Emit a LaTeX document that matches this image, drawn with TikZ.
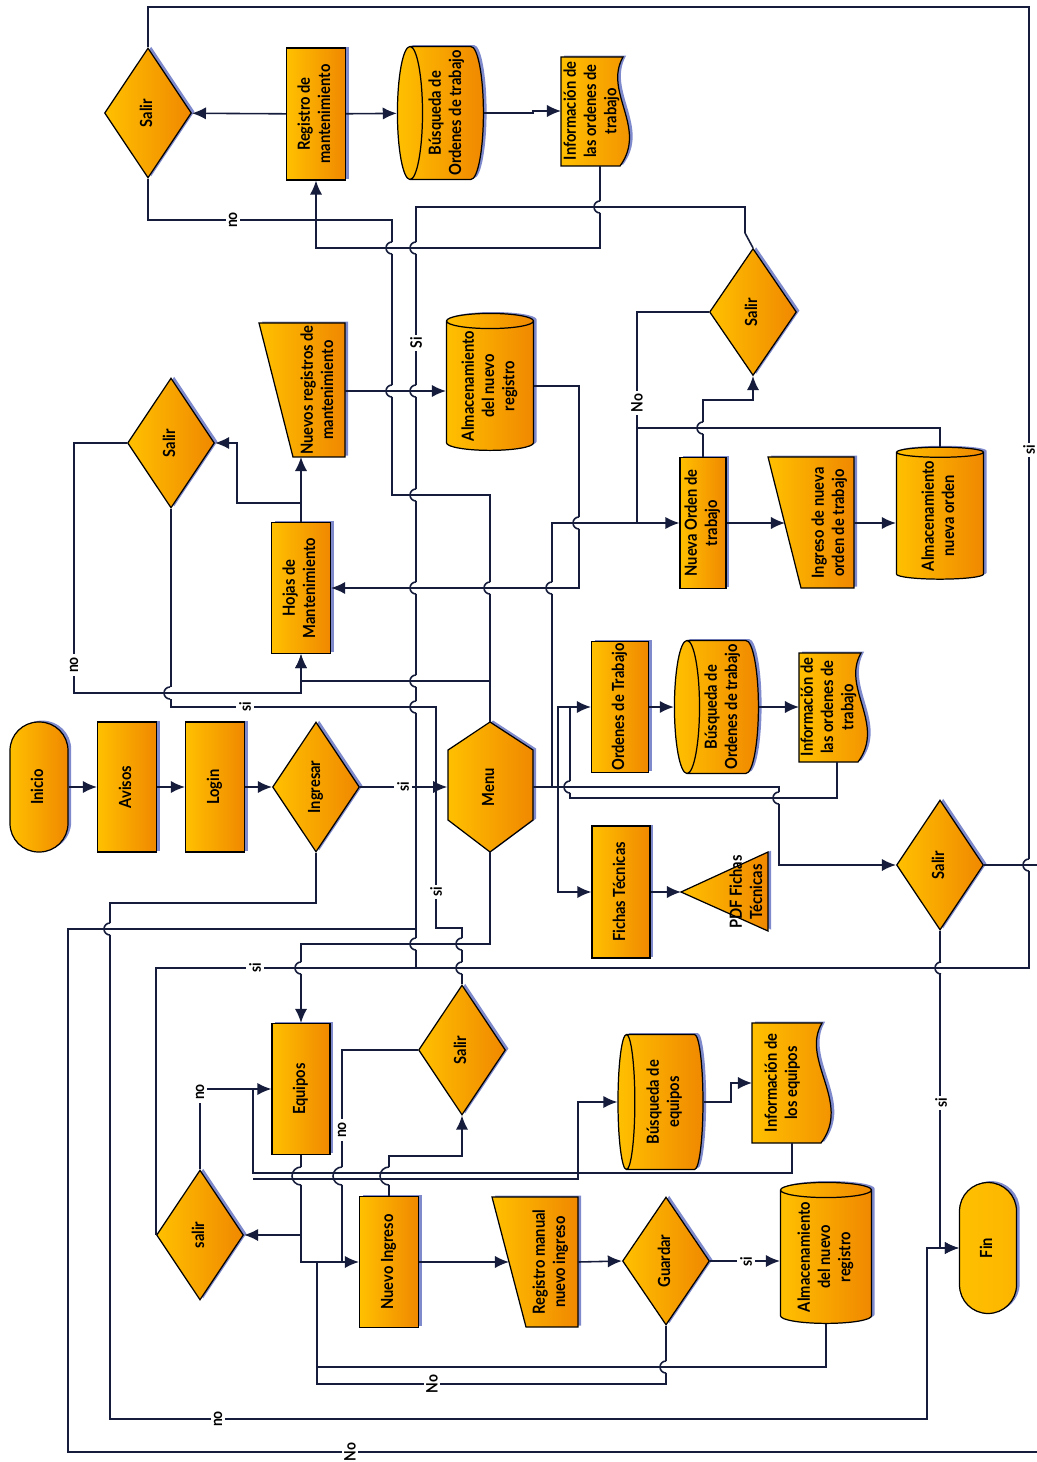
\documentclass[tikz,border=0pt]{standalone}
\usepackage{fontspec}
\setmainfont{Lato}[FakeStretch=0.88]
\usepackage{tikz}
\usetikzlibrary{arrows.meta,positioning,calc,shapes.geometric,shadows}
\definecolor{flowyel}{RGB}{255,192,0}
\definecolor{floworg}{RGB}{240,136,0}
\definecolor{linenavy}{RGB}{22,28,60}
\definecolor{flowshade}{RGB}{40,60,170}
\newcommand{\vtxt}[1]{\rotatebox{90}{\begin{tabular}{@{}c@{}}#1\end{tabular}}}
\tikzset{
  flowfill/.style={draw=black, line width=0.7pt, left color=flowyel, right color=floworg,
    drop shadow={fill=flowshade, opacity=0.6, shadow xshift=1.8pt, shadow yshift=0.8pt}},
  flowtext/.style={font=\bfseries\fontsize{9.5}{11.5}\selectfont, inner sep=0pt},
  procbox/.style={flowfill, flowtext, rectangle, minimum width=1.18cm, minimum height=2.62cm},
  decbox/.style={flowfill, flowtext, diamond, minimum width=1.74cm, minimum height=2.6cm},
  termbox/.style={flowfill, flowtext, rectangle, rounded corners=0.57cm, minimum width=1.16cm, minimum height=2.6cm},
  storebox/.style={flowfill, flowtext, cylinder, shape border rotate=90, aspect=0.25, minimum width=1.74cm, minimum height=2.74cm},
  drumbox/.style={flowfill, flowtext, cylinder, shape border rotate=180, aspect=0.2, minimum width=2.66cm, minimum height=1.72cm},
  textbox/.style={flowtext, rectangle},
  connline/.style={draw=linenavy, line width=0.9pt},
  connarrow/.style={connline, -{Latex[length=8pt,width=7pt]}},
  flowlabel/.style={font=\bfseries\fontsize{9}{10}\selectfont, fill=white, inner sep=1.5pt, rotate=90}
}

\begin{document}
\begin{tikzpicture}[x=0.02cm, y=-0.02cm]
  \useasboundingbox (0,0) rectangle (1036,1462);

  % shapes drawn directly
  \path[flowfill] (448,750) -- (490,722) -- (533,750) -- (533,820) -- (490,852) -- (448,820) -- cycle;
  \path[flowfill] (259,323) -- (345,323) -- (345,457) -- (293,457) -- cycle;
  \path[flowfill] (768,457) -- (854,457) -- (854,588) -- (801,588) -- cycle;
  \path[flowfill] (492,1197) -- (578,1197) -- (578,1327) -- (526,1327) -- cycle;
  \path[flowfill] (561,57) -- (623,57) .. controls (603,92) and (648,128) .. (620,166) -- (561,166) -- cycle;
  \path[flowfill] (799,653) -- (861,653) .. controls (841,688) and (886,724) .. (858,762) -- (799,762) -- cycle;
  \path[flowfill] (752,1023) -- (822,1023) .. controls (800,1060) and (852,1102) .. (821,1143) -- (752,1143) -- cycle;
  \path[flowfill] (681,892) -- (768,852) -- (768,931) -- cycle;

  \coordinate (nreg-s) at (301,457);
  \coordinate (nreg-e) at (345,391);
  \coordinate (ingo-w) at (785,523);
  \coordinate (ingo-e) at (854,523);
  \coordinate (rman-w) at (509,1262);
  \coordinate (rman-e) at (578,1262);
  \coordinate (inf1-w) at (561,111);
  \coordinate (inf1-s) at (600,166);
  \coordinate (inf2-w) at (799,707);
  \coordinate (inf2-s) at (837,762);
  \coordinate (inf3-w) at (752,1083);
  \coordinate (inf3-s) at (792,1143);
  \coordinate (pdf) at (681,892);

  % top part
  \node[decbox] (sal1) at (148,113) {\vtxt{Salir}};
  \node[procbox, minimum height=2.64cm] (regm) at (316,114) {\vtxt{Registro de\\mantenimiento}};
  \node[drumbox] (bus1) at (447,113) {\vtxt{Búsqueda de\\Ordenes de trabajo}};
  \node[textbox] (inf1) at (592,111) {\vtxt{Información de\\las ordenes de\\trabajo}};
  \node[decbox] (sal2) at (171,443) {\vtxt{Salir}};
  \node[textbox] (nreg) at (319,390) {\vtxt{Nuevos registros de\\mantenimiento}};
  \node[storebox] (alm1) at (490,386) {\vtxt{Almacenamiento\\del nuevo\\registro}};
  \node[procbox] (hoja) at (301,588) {\vtxt{Hojas de\\Mantenimiento}};
  \node[decbox, minimum height=2.54cm] (sal4) at (753,312) {\vtxt{Salir}};
  \node[procbox, minimum width=0.92cm] (nord) at (703,523) {\vtxt{Nueva Orden de\\trabajo}};
  \node[textbox] (ingo) at (830,523) {\vtxt{Ingreso de nueva\\orden de trabajo}};
  \node[storebox, minimum height=2.64cm] (alm2) at (940,516) {\vtxt{Almacenamiento\\nueva orden}};

  % main row
  \node[termbox] (ini) at (39,787) {\vtxt{Inicio}};
  \node[procbox, minimum height=2.6cm] (avi) at (127,787) {\vtxt{Avisos}};
  \node[procbox, minimum height=2.6cm] (log) at (215,787) {\vtxt{Login}};
  \node[decbox] (ing) at (316,787) {\vtxt{Ingresar}};
  \node[textbox, minimum width=1.7cm, minimum height=2.6cm] (menu) at (490,787) {\vtxt{Menu}};
  \node[procbox, minimum width=1.14cm] (ord) at (620,707) {\vtxt{Ordenes de Trabajo}};
  \node[drumbox, minimum height=1.68cm] (bus2) at (723,707) {\vtxt{Búsqueda de\\Ordenes de trabajo}};
  \node[textbox] (inf2) at (829,707) {\vtxt{Información de\\las ordenes de\\trabajo}};
  \node[procbox, minimum width=1.16cm, minimum height=2.64cm] (fic) at (621,892) {\vtxt{Fichas Técnicas}};
  \node[textbox] (pdft) at (748,892) {\vtxt{PDF Fichas\\Técnicas}};
  \node[decbox] (sal3) at (940,865) {\vtxt{Salir}};

  % bottom part
  \node[procbox, minimum width=1.16cm] (equ) at (301,1089) {\vtxt{Equipos}};
  \node[decbox] (sal5) at (462,1050) {\vtxt{Salir}};
  \node[drumbox, minimum width=2.7cm, minimum height=1.7cm] (bus3) at (665,1102) {\vtxt{Búsqueda de\\equipos}};
  \node[textbox] (inf3) at (783,1083) {\vtxt{Información de\\los equipos}};
  \node[decbox] (sal6) at (200,1235) {\vtxt{salir}};
  \node[procbox] (ning) at (389,1262) {\vtxt{Nuevo Ingreso}};
  \node[textbox] (rman) at (551,1262) {\vtxt{Registro manual\\nuevo ingreso}};
  \node[decbox, minimum height=2.56cm] (gua) at (666,1261) {\vtxt{Guardar}};
  \node[storebox, minimum width=1.82cm, minimum height=2.82cm] (alm3) at (826,1257) {\vtxt{Almacenamiento\\del nuevo\\registro}};
  \node[termbox, minimum width=1.14cm, minimum height=2.62cm, right color=flowyel!80!floworg] (fin) at (988,1248) {\vtxt{Fin}};

  % connectors
  \draw[connarrow] (ini) -- (avi);
  \draw[connarrow] (avi) -- (log);
  \draw[connarrow] (log) -- (ing);
  \draw[connarrow] (ing) -- (menu);
  \draw[connarrow] (ing.south) -- (316,903) -| (110,1419) -- (927,1419) |- (fin.west);
  \draw[connarrow] (menu.north) -- (490,681) -| (hoja.south);
  \draw[connarrow] (sal2.west) -| (74,693) -| (hoja.south);
  \draw[connline] (sal2.south) |- (436,707) -- (436,787);
  \draw[connarrow] (hoja.north) -- (nreg-s);
  \draw[connarrow] (301,503) -- (237,503) |- (sal2.east);
  \draw[connarrow] (nreg-e) -- (alm1.west |- nreg-e);
  \draw[connarrow] (alm1.east) -| (579,588) -- (hoja.east);
  \draw[connarrow] (menu.east) -| (779,865) -- (sal3.west);
  \draw[connarrow] (552,787) |- (nord.west);
  \draw[connarrow] (558,787) |- (ord.west);
  \draw[connarrow] (558,787) |- (fic.west);
  \draw[connarrow] (ord) -- (bus2);
  \draw[connarrow] (bus2.east) -- (inf2-w);
  \draw[connline] (inf2-s) |- (570,798) -- (570,707);
  \draw[connarrow] (fic.east) -- (pdf);
  \draw[connarrow] (sal3.south) |- (fin.west);
  \draw[connline] (sal3.east) -- (1045,865) -- (1045,1452) -- (68,1452) -- (68,929) -- (417,929);
  \draw[connline] (sal1.north) |- (1029,7) -- (1029,968) -| (sal6.west);
  \draw[connline] (sal4.north) -- (745,233) -- (745,207) -- (416,207) -- (416,968);
  \draw[connline] (sal4.west) -| (637,523);
  \draw[connline] (alm2.north) |- (637,428);
  \draw[connarrow] (nord.north) -- (703,400) -| (sal4.south);
  \draw[connarrow] (nord.east) -- (ingo-w);
  \draw[connarrow] (ingo-e) -- (alm2.west |- ingo-e);
  \draw[connarrow] (regm) -- (sal1);
  \draw[connarrow] (regm) -- (bus1);
  \draw[connarrow] (bus1.east) -- (533,113) |- (inf1-w);
  \draw[connarrow] (inf1-s) -- (600,248) -| (regm.south);
  \draw[connline] (sal1.south) |- (392,220) -- (392,495) -- (490,495) -- (490,681);
  \draw[connarrow] (menu.south) -- (490,944) -| (equ.north);
  \draw[connline] (sal5.north) -- (462,928) -- (436,928) -- (436,787);
  \draw[connline] (sal5.west) -| (342,1262);
  \draw[connarrow] (equ.south) |- (ning.west);
  \draw[connarrow] (301,1235) -- (sal6.east);
  \draw[connarrow] (sal6.north) |- (equ.west);
  \draw[connline] (inf3-s) -- (792,1173) -- (253,1173) -- (253,1089);
  \draw[connarrow] (253,1179) -- (578,1179) |- (bus3.west);
  \draw[connarrow] (bus3.east) -- (731,1102) |- (inf3-w);
  \draw[connarrow] (ning.north) -- (389,1156) -| (sal5.south);
  \draw[connarrow] (ning.east) -- (rman-w);
  \draw[connarrow] (rman-e) -- (gua.west);
  \draw[connarrow] (gua.east) -- (alm3.west |- gua.east);
  \draw[connline] (gua.south) |- (317,1384) -- (317,1262);
  \draw[connline] (alm3.south) |- (317,1367);

  % line hops where a vertical line jumps a horizontal one
  \foreach \hx/\hy in {392/248, 416/248, 600/207, 392/391, 416/391, 416/495, 416/588,
      490/588, 552/588, 579/523, 416/681, 416/707, 170/693, 416/944, 462/944, 301/968,
      462/968, 110/929, 941/968, 1029/865, 779/798, 570/787, 666/1367, 703/428} {
    \fill[white] (\hx-2,\hy-6) rectangle (\hx+2,\hy+6);
    \draw[connline] (\hx-8,\hy) -- (\hx+8,\hy);
    \draw[connline] (\hx,\hy-6) arc[start angle=-90, end angle=-270, radius=6];
  }
  % hops over the pair of lines below Equipos
  \foreach \hx in {301, 342, 389} {
    \fill[white] (\hx-2,1167) rectangle (\hx+2,1185);
    \draw[connline] (\hx-10,1173) -- (\hx+10,1173);
    \draw[connline] (\hx-10,1179) -- (\hx+10,1179);
    \draw[connline] (\hx,1167) arc[start angle=-90, end angle=-270, radius=9];
  }

  % branch labels
  \node[flowlabel] (l1) at (233,220) {no};
  \node[flowlabel] (l2) at (416,343) {Si};
  \node[flowlabel] (l3) at (637,403) {No};
  \node[flowlabel] (l4) at (1029,450) {si};
  \node[flowlabel] (l5) at (74,665) {no};
  \node[flowlabel] (l6) at (245,707) {si};
  \node[flowlabel] (l7) at (403,787) {si};
  \node[flowlabel] (l8) at (436,892) {si};
  \node[flowlabel] (l9) at (255,968) {si};
  \node[flowlabel] (l10) at (200,1092) {no};
  \node[flowlabel] (l11) at (342,1130) {no};
  \node[flowlabel] (l12) at (941,1103) {si};
  \node[flowlabel] (l13) at (746,1262) {si};
  \node[flowlabel] (l14) at (432,1384) {No};
  \node[flowlabel] (l15) at (218,1419) {no};
  \node[flowlabel] (l16) at (350,1452) {No};
\end{tikzpicture}
\end{document}
